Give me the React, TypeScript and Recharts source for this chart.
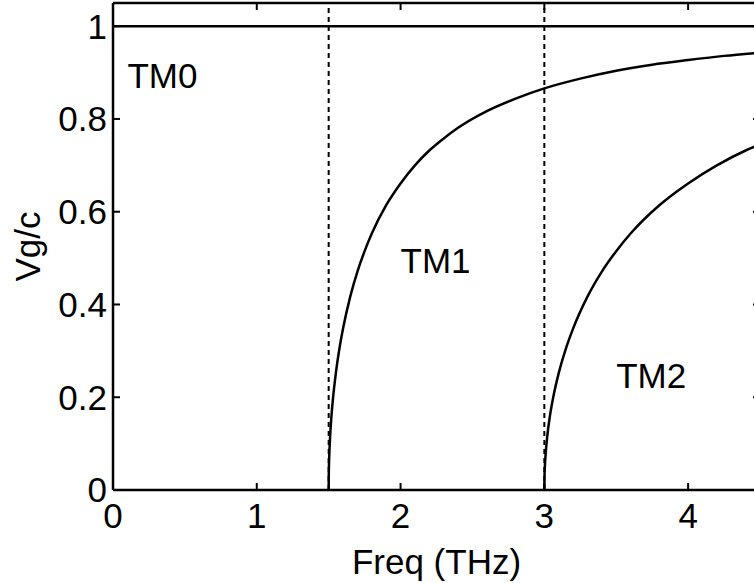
import { LineChart, Line, XAxis, YAxis, ReferenceLine, ReferenceDot, Label } from 'recharts'

const FONT = '"Liberation Sans", Arial, Helvetica, sans-serif'
const FS = 35
const TICK_LEN = 7

// group velocity of each TM mode
const tm0Freq = [0, 4.5]
const tm0Vg = [1, 1]

const tm1Freq = [1.5, 1.5005, 1.502, 1.505, 1.51, 1.52, 1.53, 1.55, 1.575, 1.6, 1.65, 1.7, 1.75, 1.8, 1.9, 2.0, 2.1, 2.2, 2.3, 2.4, 2.6, 2.8, 3.0, 3.25, 3.5, 3.75, 4.0, 4.25, 4.5]
const tm1Vg = [0, 0.026, 0.052, 0.081, 0.115, 0.162, 0.197, 0.252, 0.305, 0.348, 0.417, 0.471, 0.515, 0.553, 0.614, 0.661, 0.7, 0.732, 0.758, 0.781, 0.817, 0.844, 0.866, 0.887, 0.904, 0.917, 0.927, 0.936, 0.943]

const tm2Freq = [3.0, 3.001, 3.004, 3.01, 3.02, 3.04, 3.06, 3.1, 3.15, 3.2, 3.3, 3.4, 3.5, 3.6, 3.8, 4.0, 4.2, 4.4, 4.5]
const tm2Vg = [0, 0.026, 0.052, 0.081, 0.115, 0.162, 0.197, 0.252, 0.305, 0.348, 0.417, 0.471, 0.515, 0.553, 0.614, 0.661, 0.7, 0.732, 0.745]

const cutoffFreqs = [1.5, 3]
const xTicks = [0, 1, 2, 3, 4]
const yTicks = [0, 0.2, 0.4, 0.6, 0.8, 1]

const modeNames = ['TM0', 'TM1', 'TM2']
const modeLabelFreq = [0.1, 2.0, 3.5]
const modeLabelVg = [0.867, 0.467, 0.219]

const toPoints = (f: number[], v: number[]) => f.map((x, i) => ({ f: x, v: v[i] }))

const series = [toPoints(tm0Freq, tm0Vg), toPoints(tm1Freq, tm1Vg), toPoints(tm2Freq, tm2Vg)]

const textStyle = { fontSize: FS, fill: '#000', fontFamily: FONT }
const axisStroke = { stroke: '#000', strokeWidth: 2.5 }

// matlab style: tick marks point into the plot on all four sides
const BOTTOM_GAP = 13
function BottomTick(props: any) {
  const { x, y, payload } = props
  return (
    <g>
      <line x1={x} x2={x} y1={y - BOTTOM_GAP} y2={y - BOTTOM_GAP - TICK_LEN} stroke="#000" strokeWidth={2} />
      <text x={x} y={y} dy="0.71em" textAnchor="middle" style={textStyle}>
        {payload.value}
      </text>
    </g>
  )
}

const LEFT_GAP = 6
function LeftTick(props: any) {
  const { x, y, payload } = props
  return (
    <g>
      <line x1={x + LEFT_GAP} x2={x + LEFT_GAP + TICK_LEN} y1={y} y2={y} stroke="#000" strokeWidth={2} />
      <text x={x} y={y} dy="0.355em" textAnchor="end" style={textStyle}>
        {payload.value}
      </text>
    </g>
  )
}

function TopTick(props: any) {
  const { x, y } = props
  return <line x1={x} x2={x} y1={y} y2={y + TICK_LEN} stroke="#000" strokeWidth={2} />
}

function RightTick(props: any) {
  const { x, y } = props
  return <line x1={x} x2={x - TICK_LEN} y1={y} y2={y} stroke="#000" strokeWidth={2} />
}

export default function App() {
  return (
    <div style={{ position: 'absolute', left: 0, top: 0, width: 754, height: 583, overflow: 'hidden', background: '#fff' }}>
      <LineChart width={780} height={583} margin={{ top: 2, right: 19, bottom: 0, left: 0 }}>
        <XAxis
          xAxisId="b"
          type="number"
          dataKey="f"
          domain={[0, 4.5]}
          ticks={xTicks}
          interval={0}
          allowDataOverflow
          height={93}
          tickSize={0}
          tickMargin={BOTTOM_GAP}
          tick={<BottomTick />}
          tickLine={false}
          axisLine={axisStroke}
        >
          <Label value="Freq (THz)" position="insideBottom" offset={9} style={textStyle} />
        </XAxis>
        <XAxis
          xAxisId="t"
          orientation="top"
          type="number"
          dataKey="f"
          domain={[0, 4.5]}
          ticks={xTicks}
          interval={0}
          allowDataOverflow
          height={1}
          tickSize={0}
          tickMargin={0}
          tick={<TopTick />}
          tickLine={false}
          axisLine={axisStroke}
        />
        <YAxis
          yAxisId="l"
          type="number"
          domain={[0, 1.05]}
          ticks={yTicks}
          interval={0}
          allowDataOverflow
          width={113}
          tickSize={0}
          tickMargin={LEFT_GAP}
          tick={<LeftTick />}
          tickLine={false}
          axisLine={axisStroke}
        >
          <Label
            content={(props: any) => {
              const vb = props.viewBox
              const cx = 40
              const cy = vb.y + vb.height / 2
              return (
                <text x={cx} y={cy} textAnchor="middle" transform={`rotate(-90, ${cx}, ${cy})`} style={textStyle}>
                  Vg/c
                </text>
              )
            }}
          />
        </YAxis>
        <YAxis
          yAxisId="r"
          orientation="right"
          type="number"
          domain={[0, 1.05]}
          ticks={yTicks}
          interval={0}
          allowDataOverflow
          width={1}
          tickSize={0}
          tickMargin={0}
          tick={<RightTick />}
          tickLine={false}
          axisLine={axisStroke}
        />

        {cutoffFreqs.map(c => (
          <ReferenceLine
            key={c}
            xAxisId="b"
            yAxisId="l"
            x={c}
            stroke="#000"
            strokeWidth={2}
            strokeDasharray="5 4"
          />
        ))}

        {series.map((d, i) => (
          <Line
            key={modeNames[i]}
            xAxisId="b"
            yAxisId="l"
            data={d}
            dataKey="v"
            type="monotone"
            stroke="#000"
            strokeWidth={2.5}
            dot={false}
            isAnimationActive={false}
          />
        ))}

        {modeNames.map((name, i) => (
          <ReferenceDot
            key={name}
            xAxisId="b"
            yAxisId="l"
            x={modeLabelFreq[i]}
            y={modeLabelVg[i]}
            ifOverflow="visible"
            shape={(p: any) => (
              <text x={p.cx} y={p.cy} textAnchor="start" style={textStyle}>
                {name}
              </text>
            )}
          />
        ))}
      </LineChart>
    </div>
  )
}
